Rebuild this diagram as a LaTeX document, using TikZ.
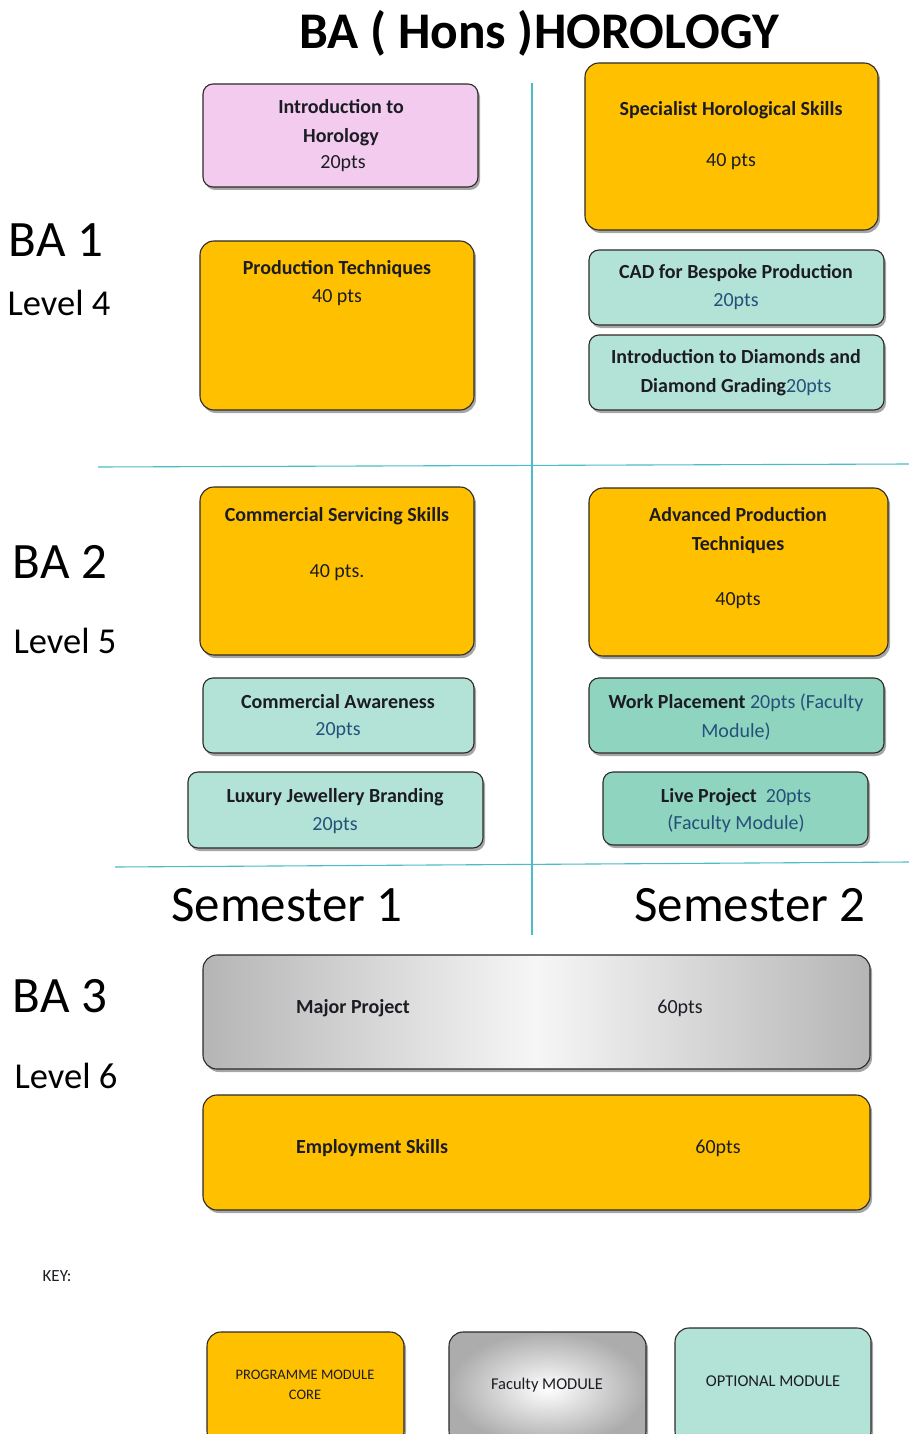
\documentclass[tikz,border=0pt]{standalone}
\usepackage{fontspec}
\setmainfont{Carlito}
\usetikzlibrary{shadows}
\definecolor{core}{HTML}{FFC000}
\definecolor{pinkm}{HTML}{F3CBEF}
\definecolor{opt}{HTML}{B3E3D6}
\definecolor{optdk}{HTML}{8FD4BF}
\definecolor{gridc}{HTML}{4BBDC6}
\definecolor{txt}{HTML}{1C1C24}
\definecolor{ptsblue}{HTML}{24507A}
\definecolor{edge}{HTML}{2E2A28}
\tikzset{
  modbox/.style={draw=edge, line width=1.1pt, rounded corners=14pt, inner sep=0pt,
    drop shadow={shadow xshift=2pt, shadow yshift=-3pt, opacity=0.35, fill=black}},
  smallbox/.style={modbox, rounded corners=10pt},
  corebox/.style={modbox, fill=core},
  facbox/.style={modbox, left color=gray!58, right color=gray!58, middle color=white!93!gray},
  mtext/.style={font=\fontsize{20}{29}\selectfont\bfseries, text=txt, align=center, inner sep=0pt},
  ptext/.style={font=\fontsize{20}{29}\selectfont, text=txt, align=center, inner sep=0pt},
  btext/.style={font=\fontsize{20}{29}\selectfont, text=ptsblue, align=center, inner sep=0pt},
  biglabel/.style={font=\fontsize{51}{53}\selectfont, text=black, inner sep=0pt},
  lvllabel/.style={font=\fontsize{36.5}{38}\selectfont, text=black, inner sep=0pt},
  gridline/.style={draw=gridc, line width=1.1pt},
  keytext/.style={font=\fontsize{16.5}{20}\selectfont, text=txt, align=center, inner sep=0pt}
}
\begin{document}
\begin{tikzpicture}[x=1pt,y=-1pt]
\useasboundingbox[fill=white] (0,0) rectangle (909,1434);

% title
\node[font=\fontsize{51.4}{53}\selectfont\bfseries, inner sep=0pt] (title) at (539,33) {BA ( Hons )HOROLOGY};

% grid lines
\coordinate (v1) at (532,83);
\coordinate (v2) at (532,935);
\coordinate (h1a) at (98,467);
\coordinate (h1b) at (909,464);
\coordinate (h2a) at (115,867);
\coordinate (h2b) at (909,862);
\draw[gridline] (v1) -- (v2);
\draw[gridline] (h1a) -- (h1b);
\draw[gridline] (h2a) -- (h2b);

% left labels
\node[biglabel] (ba1) at (56,240) {BA 1};
\node[lvllabel] (lv4) at (59,303) {Level 4};
\node[biglabel] (ba2) at (60,562) {BA 2};
\node[lvllabel] (lv5) at (65,641) {Level 5};
\node[biglabel] (ba3) at (60,996) {BA 3};
\node[lvllabel] (lv6) at (66,1076) {Level 6};
\node[biglabel] (sem1) at (287,905) {Semester 1};
\node[biglabel] (sem2) at (750,905) {Semester 2};

% BA1 semester 1
\node[smallbox, fill=pinkm, minimum width=275pt, minimum height=103pt] (intro) at (340.5,135.5) {};
\node[mtext] (introt) at (341,122.5) {Introduction to\\Horology};
\node[ptext] (introp) at (343,164) {20pts};

\node[corebox, minimum width=274pt, minimum height=169pt] (prod) at (337,325.5) {};
\node[mtext] (prodt) at (337,269) {Production Techniques};
\node[ptext] (prodp) at (337,298) {40 pts};

% BA1 semester 2
\node[corebox, minimum width=293pt, minimum height=167pt] (spec) at (731.5,146.5) {};
\node[mtext] (spect) at (731,110) {Specialist Horological Skills};
\node[ptext] (specp) at (731,162) {40 pts};

\node[smallbox, fill=opt, minimum width=295pt, minimum height=75pt] (cad) at (736.5,287.5) {};
\node[mtext] (cadt) at (736,273) {CAD for Bespoke Production};
\node[btext] (cadp) at (736,302) {20pts};

\node[smallbox, fill=opt, minimum width=295pt, minimum height=75pt] (diam) at (736.5,372.5) {};
\node[mtext] (diamt) at (736,373) {Introduction to Diamonds and\\Diamond Grading\mdseries\color{ptsblue}20pts};

% BA2 semester 1
\node[corebox, minimum width=274pt, minimum height=168pt] (serv) at (337,571) {};
\node[mtext] (servt) at (337,516) {Commercial Servicing Skills};
\node[ptext] (servp) at (337,573) {40 pts.};

\node[smallbox, fill=opt, minimum width=271pt, minimum height=75pt] (aware) at (338.5,715.5) {};
\node[mtext] (awaret) at (338,702) {Commercial Awareness};
\node[btext] (awarep) at (338,731) {20pts};

\node[smallbox, fill=opt, minimum width=295pt, minimum height=76pt] (lux) at (335.5,810) {};
\node[mtext] (luxt) at (335,797) {Luxury Jewellery Branding};
\node[btext] (luxp) at (335,826) {20pts};

% BA2 semester 2
\node[corebox, minimum width=299pt, minimum height=168pt] (adv) at (738.5,572) {};
\node[mtext] (advt) at (738,531) {Advanced Production\\Techniques};
\node[ptext] (advp) at (738,601) {40pts};

\node[smallbox, fill=optdk, minimum width=295pt, minimum height=75pt] (work) at (736.5,715.5) {};
\node[btext] (workt) at (736,717) {\color{txt}\bfseries Work Placement \mdseries\color{ptsblue}20pts (Faculty\\Module)};

\node[smallbox, fill=optdk, minimum width=265pt, minimum height=73pt] (live) at (735.5,808.5) {};
\node[btext, font=\fontsize{20}{27}\selectfont] (livet) at (736,811) {\color{txt}\bfseries Live Project \ \mdseries\color{ptsblue}20pts\\(Faculty Module)};

% BA3
\node[facbox, minimum width=667pt, minimum height=114pt] (major) at (536.5,1012) {};
\node[mtext] (majort) at (353,1008) {Major Project};
\node[ptext] (majorp) at (680,1008) {60pts};

\node[corebox, minimum width=667pt, minimum height=115pt] (emp) at (536.5,1152.5) {};
\node[mtext] (empt) at (372,1148) {Employment Skills};
\node[ptext] (empp) at (718,1148) {60pts};

% key
\node[font=\fontsize{17}{19}\selectfont, text=txt, inner sep=0pt] (key) at (57,1276) {KEY:};
\node[corebox, minimum width=197pt, minimum height=113pt] (k1) at (305.5,1388.5) {};
\node[keytext, font=\fontsize{14.5}{20}\selectfont] (k1t) at (305,1385) {PROGRAMME MODULE\\CORE};
\node[modbox, inner color=white, outer color=gray!65, minimum width=197pt, minimum height=113pt] (k2) at (547.5,1388.5) {};
\node[keytext] (k2t) at (547,1385) {Faculty MODULE};
\node[modbox, fill=opt, minimum width=196pt, minimum height=117pt] (k3) at (773,1386.5) {};
\node[keytext] (k3t) at (773,1381) {OPTIONAL MODULE};
\end{tikzpicture}
\end{document}
